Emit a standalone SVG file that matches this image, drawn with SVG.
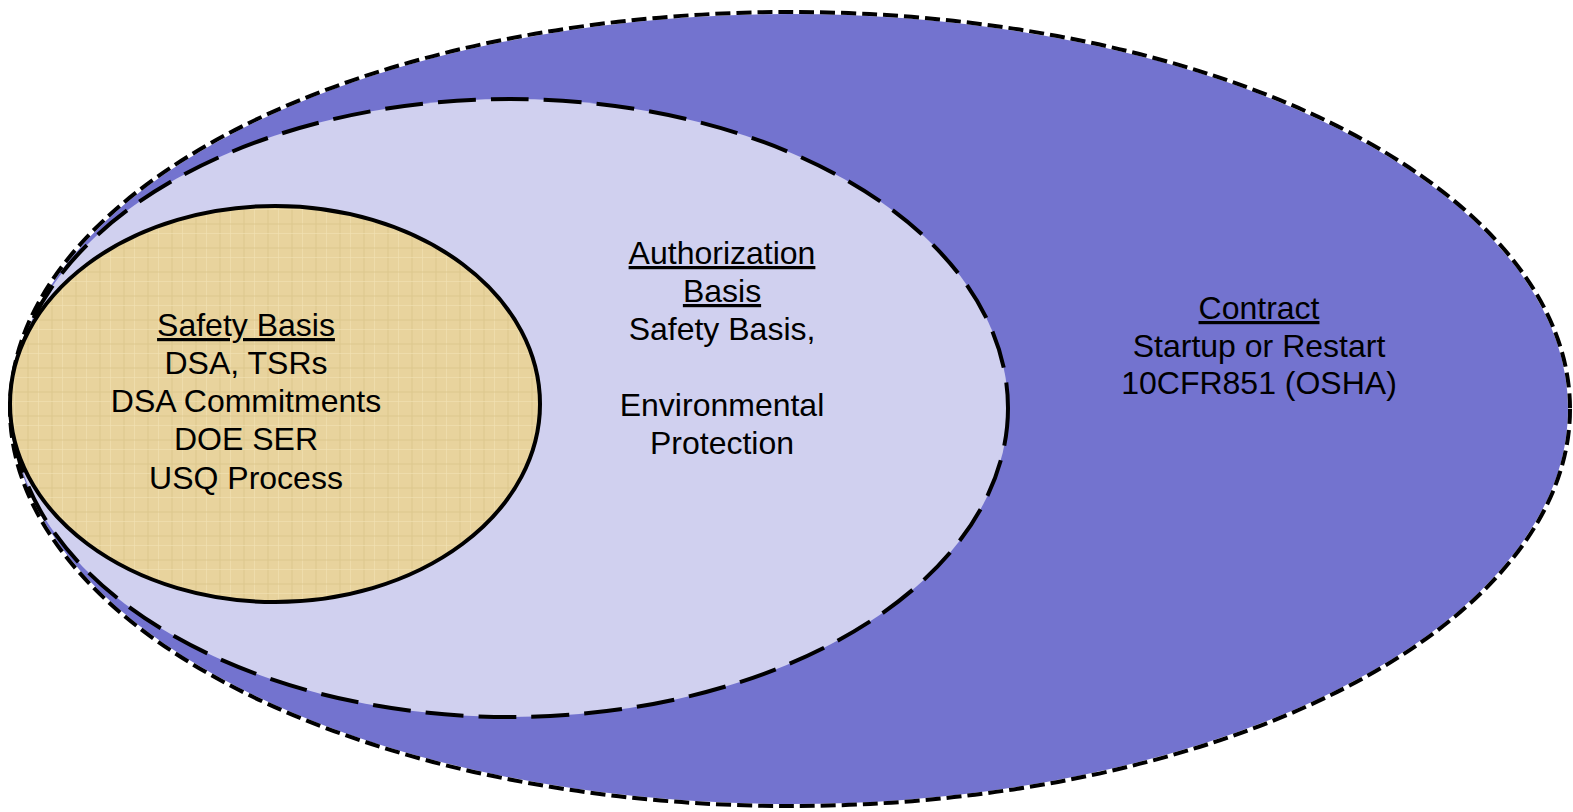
<svg xmlns="http://www.w3.org/2000/svg" width="1573" height="812" viewBox="0 0 1573 812">
<defs>
<pattern id="linen" width="24" height="24" patternUnits="userSpaceOnUse">
<rect width="24" height="24" fill="#E8D39D"/>
<rect x="3" y="0" width="2" height="24" fill="#DCC58C" opacity="0.45"/>
<rect x="14" y="0" width="1" height="24" fill="#F2E2B4" opacity="0.6"/>
<rect x="0" y="7" width="24" height="2" fill="#DCC58C" opacity="0.45"/>
<rect x="0" y="17" width="24" height="1" fill="#F2E2B4" opacity="0.6"/>
</pattern>
<style>
.t{font-family:"Liberation Sans",Arial,sans-serif;font-size:32px;fill:#000;text-anchor:middle}
.u{text-decoration:underline}
</style>
</defs>
<g id="contract">
<ellipse cx="790" cy="409" rx="780" ry="397" fill="#7373CF" stroke="#fff" stroke-width="4"/>
<ellipse cx="790" cy="409" rx="780" ry="397" fill="none" stroke="#000" stroke-width="4" stroke-dasharray="15 6"/>
<text class="t" x="1259" y="319"><tspan class="u">Contract</tspan></text>
<text class="t" x="1259" y="357">Startup or Restart</text>
<text class="t" x="1259" y="394">10CFR851 (OSHA)</text>
</g>
<g id="authorization">
<ellipse cx="510" cy="408" rx="498" ry="309" fill="#D0D0EF" stroke="#000" stroke-width="4" stroke-dasharray="38 15"/>
<text class="t" x="722" y="264"><tspan class="u">Authorization</tspan></text>
<text class="t" x="722" y="302"><tspan class="u">Basis</tspan></text>
<text class="t" x="722" y="340">Safety Basis,</text>
<text class="t" x="722" y="416">Environmental</text>
<text class="t" x="722" y="454">Protection</text>
</g>
<g id="safety">
<ellipse cx="275" cy="404" rx="265" ry="198" fill="url(#linen)" stroke="#000" stroke-width="4"/>
<text class="t" x="246" y="336"><tspan class="u">Safety Basis</tspan></text>
<text class="t" x="246" y="374">DSA, TSRs</text>
<text class="t" x="246" y="412">DSA Commitments</text>
<text class="t" x="246" y="450">DOE SER</text>
<text class="t" x="246" y="489">USQ Process</text>
</g>
<g id="connectors"></g>
</svg>
